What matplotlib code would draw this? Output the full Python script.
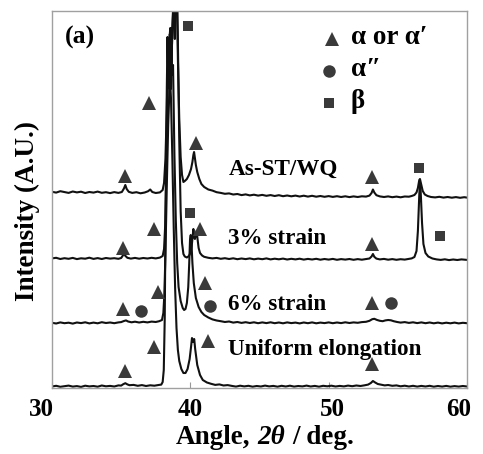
import matplotlib
matplotlib.use("Agg")
import matplotlib.pyplot as plt
import matplotlib.transforms as mtransforms
from matplotlib.offsetbox import TextArea, HPacker, AnnotationBbox
import numpy as np

plt.rcParams['font.family'] = ['Liberation Serif', 'DejaVu Serif']
plt.rcParams['font.weight'] = 'bold'

# XRD patterns, (2theta, counts above own baseline)
as_st = [(30.0, 7.2), (30.3, 6.4), (30.6, 7.8), (30.9, 6.9), (31.2, 6.1), (31.5, 7.5), (31.8, 6.6),
         (32.1, 7.3), (32.4, 6.0), (32.7, 7.0), (33.0, 6.4), (33.3, 7.4), (33.6, 6.2), (33.9, 6.8),
         (34.2, 5.9), (34.5, 6.9), (34.8, 6.1), (35.05, 7.0), (35.2, 10.5), (35.3, 14), (35.4, 10),
         (35.55, 7.2), (35.8, 6.1), (36.1, 6.8), (36.4, 5.7), (36.7, 6.5), (36.95, 7.8), (37.1, 9.5),
         (37.25, 7.0), (37.5, 6.0), (37.8, 6.6), (38.0, 9), (38.1, 16), (38.2, 40), (38.3, 90),
         (38.38, 150), (38.45, 120), (38.52, 165), (38.6, 110), (38.7, 170), (38.8, 200), (38.88, 160),
         (38.95, 250), (39.02, 210), (39.1, 140), (39.2, 80), (39.3, 42), (39.4, 24), (39.5, 17),
         (39.6, 18), (39.75, 20), (39.9, 24), (40.05, 30), (40.15, 37), (40.22, 44), (40.27, 47),
         (40.32, 42), (40.4, 34), (40.5, 27), (40.65, 20), (40.8, 15), (41.0, 12), (41.3, 9.5),
         (41.6, 8.4), (41.9, 6.8), (42.2, 6.1), (42.5, 5.2), (42.8, 5.6), (43.1, 4.5), (43.4, 5.0),
         (43.7, 3.9), (44.0, 4.6), (44.3, 3.6), (44.6, 4.3), (44.9, 3.4), (45.2, 4.1), (45.5, 3.2),
         (45.8, 3.9), (46.1, 3.0), (46.4, 3.8), (46.7, 2.8), (47.0, 3.5), (47.3, 2.7), (47.6, 3.4),
         (47.9, 2.5), (48.2, 3.3), (48.5, 2.4), (48.8, 3.2), (49.1, 2.3), (49.4, 3.0), (49.7, 2.2),
         (50.0, 2.9), (50.3, 2.1), (50.6, 2.8), (50.9, 2.0), (51.2, 2.7), (51.5, 1.9), (51.8, 2.6),
         (52.1, 2.0), (52.4, 2.7), (52.7, 2.4), (52.95, 3.4), (53.1, 6), (53.2, 9.5), (53.3, 6.5),
         (53.45, 3.8), (53.7, 2.6), (54.0, 2.0), (54.3, 2.6), (54.6, 1.8), (54.9, 2.4), (55.2, 1.7),
         (55.5, 2.5), (55.8, 2.3), (56.0, 3.0), (56.2, 4.0), (56.35, 6.5), (56.45, 11), (56.55, 19),
         (56.6, 20), (56.68, 15), (56.8, 8), (56.95, 4.5), (57.15, 3.0), (57.4, 2.0), (57.7, 1.6),
         (58.0, 2.2), (58.3, 1.4), (58.6, 2.0), (58.9, 1.3), (59.2, 1.9), (59.5, 1.2), (59.8, 1.8),
         (60.0, 1.4)]

strain3 = [(30.0, 2.6), (30.3, 3.2), (30.6, 2.0), (30.9, 2.8), (31.2, 2.2), (31.5, 3.1), (31.8, 1.9),
           (32.1, 2.7), (32.4, 2.3), (32.7, 3.3), (33.0, 2.1), (33.3, 2.9), (33.6, 2.0), (33.9, 3.0),
           (34.2, 2.4), (34.5, 2.8), (34.8, 2.2), (35.0, 3.0), (35.1, 5.0), (35.2, 7.5), (35.3, 5.2),
           (35.45, 3.2), (35.7, 2.4), (36.0, 3.1), (36.3, 2.3), (36.6, 3.0), (36.9, 2.5), (37.2, 3.2),
           (37.5, 2.6), (37.8, 3.4), (38.0, 5), (38.1, 12), (38.18, 35), (38.27, 90), (38.36, 170),
           (38.45, 215), (38.55, 233), (38.62, 190), (38.72, 240), (38.82, 280), (38.92, 330),
           (39.0, 300), (39.1, 220), (39.2, 120), (39.3, 50), (39.4, 18), (39.5, 7), (39.6, 4.5),
           (39.75, 3.5), (39.9, 5), (40.0, 8), (40.1, 15), (40.18, 26), (40.22, 32), (40.28, 24),
           (40.33, 22), (40.4, 27), (40.45, 30), (40.52, 22), (40.6, 13), (40.7, 8), (40.85, 5.5),
           (41.0, 4.2), (41.3, 3.2), (41.6, 2.6), (41.9, 3.1), (42.2, 2.2), (42.5, 2.8), (42.8, 2.0),
           (43.1, 2.7), (43.4, 1.8), (43.7, 2.5), (44.0, 1.9), (44.3, 2.6), (44.6, 1.7), (44.9, 2.4),
           (45.2, 1.8), (45.5, 2.6), (45.8, 1.6), (46.1, 2.3), (46.4, 1.7), (46.7, 2.4), (47.0, 1.5),
           (47.3, 2.2), (47.6, 1.6), (47.9, 2.3), (48.2, 1.4), (48.5, 2.1), (48.8, 1.5), (49.1, 2.2),
           (49.4, 1.3), (49.7, 2.0), (50.0, 1.4), (50.3, 2.1), (50.6, 1.2), (50.9, 1.9), (51.2, 1.4),
           (51.5, 2.0), (51.8, 1.2), (52.1, 1.9), (52.4, 1.3), (52.7, 2.0), (52.95, 2.5), (53.1, 4.5),
           (53.2, 7), (53.3, 4.2), (53.45, 2.4), (53.7, 1.6), (54.0, 2.1), (54.3, 1.3), (54.6, 1.9),
           (54.9, 1.2), (55.2, 1.8), (55.5, 1.4), (55.8, 2.1), (56.0, 2.6), (56.2, 4), (56.35, 10),
           (56.45, 30), (56.55, 66), (56.6, 78), (56.65, 70), (56.75, 38), (56.85, 17), (57.0, 8),
           (57.2, 4.5), (57.5, 2.5), (57.8, 1.6), (58.1, 1.1), (58.4, 1.7), (58.7, 0.9), (59.0, 1.5),
           (59.3, 1.0), (59.6, 1.6), (60.0, 1.1)]

strain6 = [(30.0, 2.2), (30.3, 1.5), (30.6, 2.6), (30.9, 1.8), (31.2, 2.3), (31.5, 1.4), (31.8, 2.5),
           (32.1, 1.9), (32.4, 2.7), (32.7, 1.6), (33.0, 2.4), (33.3, 1.7), (33.6, 2.8), (33.9, 2.0),
           (34.2, 2.5), (34.5, 1.8), (34.8, 2.6), (35.0, 2.9), (35.2, 4.0), (35.35, 4.6), (35.5, 3.5),
           (35.75, 2.7), (36.0, 3.3), (36.3, 2.5), (36.6, 3.2), (36.9, 2.6), (37.2, 3.4), (37.5, 3.0),
           (37.75, 3.8), (37.95, 5), (38.05, 12), (38.12, 30), (38.2, 70), (38.3, 140), (38.4, 200),
           (38.5, 240), (38.57, 270), (38.62, 297), (38.68, 250), (38.75, 260), (38.85, 170),
           (38.95, 105), (39.05, 62), (39.15, 38), (39.3, 24), (39.45, 17), (39.55, 15), (39.65, 16),
           (39.75, 22), (39.85, 38), (39.92, 62), (39.98, 86), (40.03, 90), (40.09, 80), (40.15, 62),
           (40.25, 42), (40.4, 27), (40.6, 18), (40.8, 13), (41.0, 10), (41.3, 7.5), (41.6, 5.6),
           (41.9, 4.5), (42.2, 3.8), (42.5, 3.0), (42.8, 3.5), (43.1, 2.4), (43.4, 3.0), (43.7, 2.1),
           (44.0, 2.8), (44.3, 2.0), (44.6, 2.7), (44.9, 1.8), (45.2, 2.6), (45.5, 1.9), (45.8, 2.7),
           (46.1, 1.8), (46.4, 2.5), (46.7, 1.7), (47.0, 2.6), (47.3, 1.9), (47.6, 2.4), (47.9, 1.6),
           (48.2, 2.5), (48.5, 1.8), (48.8, 2.6), (49.1, 1.7), (49.4, 2.4), (49.7, 1.9), (50.0, 2.6),
           (50.3, 1.8), (50.6, 2.5), (50.9, 1.9), (51.2, 2.7), (51.5, 2.0), (51.8, 2.6), (52.1, 2.2),
           (52.4, 2.9), (52.7, 3.2), (52.95, 4.2), (53.15, 5.8), (53.3, 6.2), (53.5, 5.0), (53.7, 4.2),
           (53.9, 3.8), (54.1, 4.6), (54.3, 5.0), (54.5, 4.7), (54.7, 3.8), (54.95, 3.0), (55.2, 2.4),
           (55.5, 2.9), (55.8, 2.1), (56.1, 2.7), (56.4, 1.9), (56.7, 2.6), (57.0, 1.8), (57.3, 2.5),
           (57.6, 1.7), (57.9, 2.4), (58.2, 1.6), (58.5, 2.3), (58.8, 1.7), (59.1, 2.4), (59.4, 1.6),
           (59.7, 2.2), (60.0, 1.8)]

uniform = [(30.0, 1.5), (30.3, 2.2), (30.6, 1.2), (30.9, 1.8), (31.2, 2.4), (31.5, 1.4), (31.8, 1.9),
           (32.1, 1.1), (32.4, 2.3), (32.7, 1.6), (33.0, 2.0), (33.3, 1.3), (33.6, 2.5), (33.9, 1.7),
           (34.2, 2.1), (34.5, 1.5), (34.8, 2.6), (35.0, 2.4), (35.15, 3.8), (35.3, 4.8), (35.45, 3.6),
           (35.6, 2.8), (35.9, 3.1), (36.2, 2.2), (36.5, 2.9), (36.8, 2.0), (37.1, 2.7), (37.4, 2.3),
           (37.7, 3.0), (37.9, 3.4), (38.0, 6), (38.08, 18), (38.15, 70), (38.22, 190), (38.3, 300),
           (38.35, 351), (38.42, 300), (38.5, 320), (38.6, 290), (38.7, 230), (38.8, 160), (38.9, 100),
           (39.0, 60), (39.1, 38), (39.2, 27), (39.35, 19), (39.5, 15), (39.65, 15), (39.8, 19),
           (39.95, 29), (40.05, 41), (40.12, 50), (40.2, 46), (40.28, 49), (40.35, 39), (40.5, 23),
           (40.7, 13), (40.9, 8), (41.2, 5.5), (41.5, 4.2), (41.8, 3.1), (42.1, 3.6), (42.4, 2.5),
           (42.7, 2.9), (43.0, 2.1), (43.3, 1.4), (43.6, 2.3), (43.9, 1.6), (44.2, 2.2), (44.5, 1.3),
           (44.8, 2.0), (45.1, 1.5), (45.4, 2.4), (45.7, 1.6), (46.0, 2.1), (46.3, 1.3), (46.6, 2.2),
           (46.9, 1.5), (47.2, 2.3), (47.5, 1.4), (47.8, 2.0), (48.1, 1.6), (48.4, 2.4), (48.7, 1.5),
           (49.0, 2.1), (49.3, 1.3), (49.6, 2.2), (49.9, 1.7), (50.2, 2.3), (50.5, 1.5), (50.8, 2.1),
           (51.1, 1.6), (51.4, 2.4), (51.7, 1.8), (52.0, 2.5), (52.3, 2.0), (52.6, 2.7), (52.85, 3.4),
           (53.05, 5.0), (53.2, 7.0), (53.35, 5.6), (53.55, 4.0), (53.8, 3.3), (54.05, 2.6), (54.3, 3.0),
           (54.6, 2.2), (54.9, 2.6), (55.2, 1.7), (55.5, 2.3), (55.8, 1.5), (56.1, 2.2), (56.4, 1.4),
           (56.7, 2.1), (57.0, 1.5), (57.3, 2.2), (57.6, 1.3), (57.9, 2.0), (58.2, 1.4), (58.5, 2.1),
           (58.8, 1.3), (59.1, 1.9), (59.4, 1.4), (59.7, 2.0), (60.0, 1.5)]

patterns = [as_st, strain3, strain6, uniform]
names = ['As-ST/WQ', '3% strain', '6% strain', 'Uniform elongation']
offsets = [189, 127, 63, 0]

# phase markers: (2theta, height)
tri = [(35.31, 212), (37.0, 285), (40.41, 245), (53.16, 211),
       (35.12, 140), (37.34, 159), (40.68, 159), (53.16, 144),
       (35.12, 79), (37.63, 96), (41.06, 105), (53.12, 85),
       (35.27, 17), (37.34, 41), (41.25, 47), (53.16, 24)]
circ = [(36.45, 77), (41.45, 82), (54.49, 85)]
sq = [(39.8, 362), (56.54, 220), (39.95, 175), (58.07, 152)]

mk_color = '#3a3a3a'

fig = plt.figure(figsize=(4.83, 4.54), dpi=100)
ax = fig.add_axes([52/483, 1-388/454, 415/483, 377/454])

for pat, off in zip(patterns, offsets):
    a = np.array(pat)
    ax.plot(a[:, 0], a[:, 1] + off, color='#111111', lw=1.5)

for pts, m, ms in [(tri, '^', 10), (circ, 'o', 9), (sq, 's', 7)]:
    p = np.array(pts)
    ax.plot(p[:, 0], p[:, 1], m, color=mk_color, ms=ms, mew=0, ls='none')

# legend
ax.plot([50.22], [349], '^', color=mk_color, ms=10, mew=0)
ax.plot([50.05], [317], 'o', color=mk_color, ms=9, mew=0)
ax.plot([50.05], [285], 's', color=mk_color, ms=7, mew=0)
ax.text(51.6, 351, 'α or α′', fontsize=19.5, va='center', ha='left')
ax.text(51.6, 319, 'α″', fontsize=19.5, va='center', ha='left')
ax.text(51.6, 287, 'β', fontsize=19.5, va='center', ha='left')

label_y = [219, 149, 84, 39]
for name, ly in zip(names, label_y):
    ax.text(42.75, ly, name, fontsize=16.7, va='center', ha='left')

ax.text(30.9, 351, '(a)', fontsize=18.5, va='center', ha='left')

ax.set_xlim(30, 60)
ax.set_ylim(0, 377)
ax.set_xticks([30, 40, 50, 60])
ax.set_yticks([])
ax.tick_params(axis='x', direction='in', length=4, color='#999999', labelsize=18, pad=7)
# nudge the end labels inward a little
for lab, dx in zip(ax.get_xticklabels(), [-11, 0, 4, -8]):
    lab.set_transform(lab.get_transform() + mtransforms.ScaledTranslation(dx / 100, 0, fig.dpi_scale_trans))
for s in ax.spines.values():
    s.set_color('#a0a0a0')
    s.set_linewidth(1.0)

# x label with italic 2theta
lbl_props = dict(fontsize=19.5, fontweight='bold')
xlab = HPacker(children=[TextArea('Angle,', textprops=lbl_props),
                         TextArea('2θ', textprops=dict(lbl_props, fontstyle='italic')),
                         TextArea('/ deg.', textprops=lbl_props)],
               sep=5, pad=0, align='baseline')
fig.add_artist(AnnotationBbox(xlab, (265/483, 1-437/454), xycoords='figure fraction',
                              frameon=False, box_alignment=(0.5, 0.5), pad=0))

fig.text(0.056, 1-211/454, 'Intensity (A.U.)', rotation=90, fontsize=19.5,
         ha='center', va='center', fontweight='bold')

fig.savefig('out.png', dpi=100)
